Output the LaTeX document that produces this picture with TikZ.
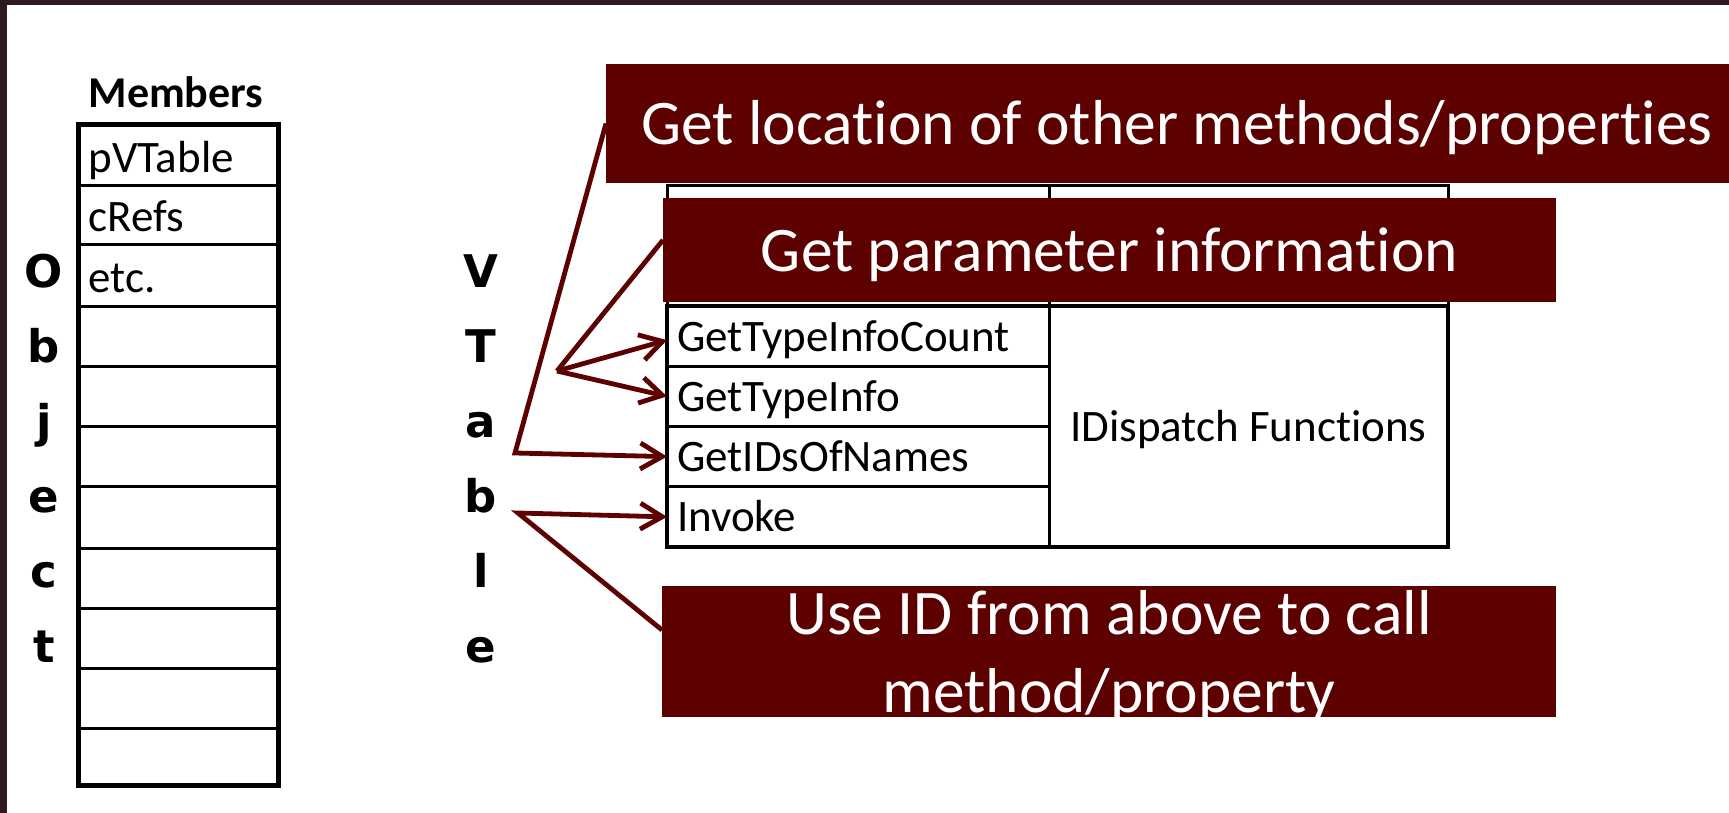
\documentclass[tikz,border=0pt]{standalone}
\usepackage{fontspec}
\setmainfont{Carlito}[Ligatures=NoCommon]
\newfontfamily\letterfont{DejaVu Sans}
\usepackage{tikz}
\usetikzlibrary{positioning, arrows.meta}
\definecolor{boxred}{HTML}{5C0000}
\definecolor{framegray}{HTML}{2E1A1E}

\begin{document}
\begin{tikzpicture}[x=0.5pt, y=-0.5pt,
        >={Straight Barb[length=11pt,width=13pt]},
        cell/.style={draw, line width=1.5pt, inner ysep=0pt, inner xsep=5pt, outer sep=0pt,
            font=\fontsize{22.5}{27}\selectfont, text height=15pt, text depth=0pt},
        fn/.style={cell, minimum height=30.125pt, text width=181pt, align=left},
        callout/.style={fill=boxred, text=white, inner sep=0pt, outer sep=0pt,
            font=\fontsize{31.75}{39}\selectfont, text height=21.5pt, text depth=0pt},
        conn/.style={draw=boxred, line width=2.4pt, line join=miter},
        letter/.style={anchor=base, inner sep=0pt, font=\letterfont\bfseries\fontsize{22.5}{27}\selectfont},
        member/.style={anchor=base west, inner sep=0pt, font=\fontsize{22.5}{27}\selectfont}]
        % Frame
        \useasboundingbox (0,0) rectangle (1729,813);
        \fill[white] (0,0) rectangle (1729,813);
        \fill[framegray] (0,0) rectangle (1729,5);
        \fill[framegray] (0,0) rectangle (7,813);
        % Object table
        \node[anchor=base, inner sep=0pt, font=\bfseries\fontsize{22}{26}\selectfont] (memhead) at (176,108) {Members};
        \draw[line width=2.5pt] (78.5,124.5) rectangle (278.5,785.5);
        \foreach \y in {185,244,306,366,426,486,548,608,668,728}
            \draw[line width=1.5pt] (78.5,\y) -- (278.5,\y);
        \node[member] (pvt) at (88,172) {pVTable};
        \node[member] (crefs) at (88,231) {cRefs};
        \node[member] (etc) at (88,292) {etc.};
        % Side letters
        \node[letter] (o1) at (44,287) {O};
        \node[letter] (o2) at (44,362) {b};
        \node[letter] (o3) at (44,437) {j};
        \node[letter] (o4) at (44,512) {e};
        \node[letter] (o5) at (44,587) {c};
        \node[letter] (o6) at (44,662) {t};
        \node[letter] (v1) at (481,287) {V};
        \node[letter] (v2) at (481,362) {T};
        \node[letter] (v3) at (481,437) {a};
        \node[letter] (v4) at (481,512) {b};
        \node[letter] (v5) at (481,587) {l};
        \node[letter] (v6) at (481,662) {e};
        % VTable, upper rows
        \draw[line width=1.5pt] (667,185) rectangle (1448,306);
        \draw[line width=1.5pt] (1049,185) -- (1049,306);
        % IDispatch rows
        \node[fn] (gtic) at (858,336.125) {GetTypeInfoCount};
        \node[fn, below=0pt of gtic] (gti) {GetTypeInfo};
        \node[fn, below=0pt of gti] (gidn) {GetIDsOfNames};
        \node[fn, below=0pt of gidn] (inv) {Invoke};
        \node[cell, anchor=north west, minimum width=199.5pt, minimum height=120.5pt] (idf) at (gtic.north east) {IDispatch Functions};
        \draw[line width=2pt] (gtic.north west) rectangle (idf.south east);
        % Callouts
        \node[callout, minimum width=571pt, minimum height=59.5pt] (loc) at (1177,123.5) {Get location of other methods/properties};
        \node[callout, minimum width=446.5pt, minimum height=52pt] (par) at (1109.5,250) {Get parameter information};
        \node[callout, minimum width=447pt, minimum height=65.5pt, align=center, text height=60.5pt] (use) at (1109,651.5) {Use ID from above to call\\method/property};
        % Connectors
        \coordinate (locbend) at (515,453);
        \coordinate (parbend) at (557,371);
        \coordinate (usebend) at (518,513);
        \draw[conn, ->] (loc.west) -- (locbend) -- (gidn.west);
        \draw[conn] ([yshift=5pt]par.west) -- (parbend);
        \draw[conn, ->] (parbend) -- ([yshift=-2pt]gtic.west);
        \draw[conn, ->] (parbend) -- (gti.west);
        \draw[conn, ->] ([yshift=10.75pt]use.west) -- (usebend) -- (inv.west);
    \end{tikzpicture}
\end{document}
